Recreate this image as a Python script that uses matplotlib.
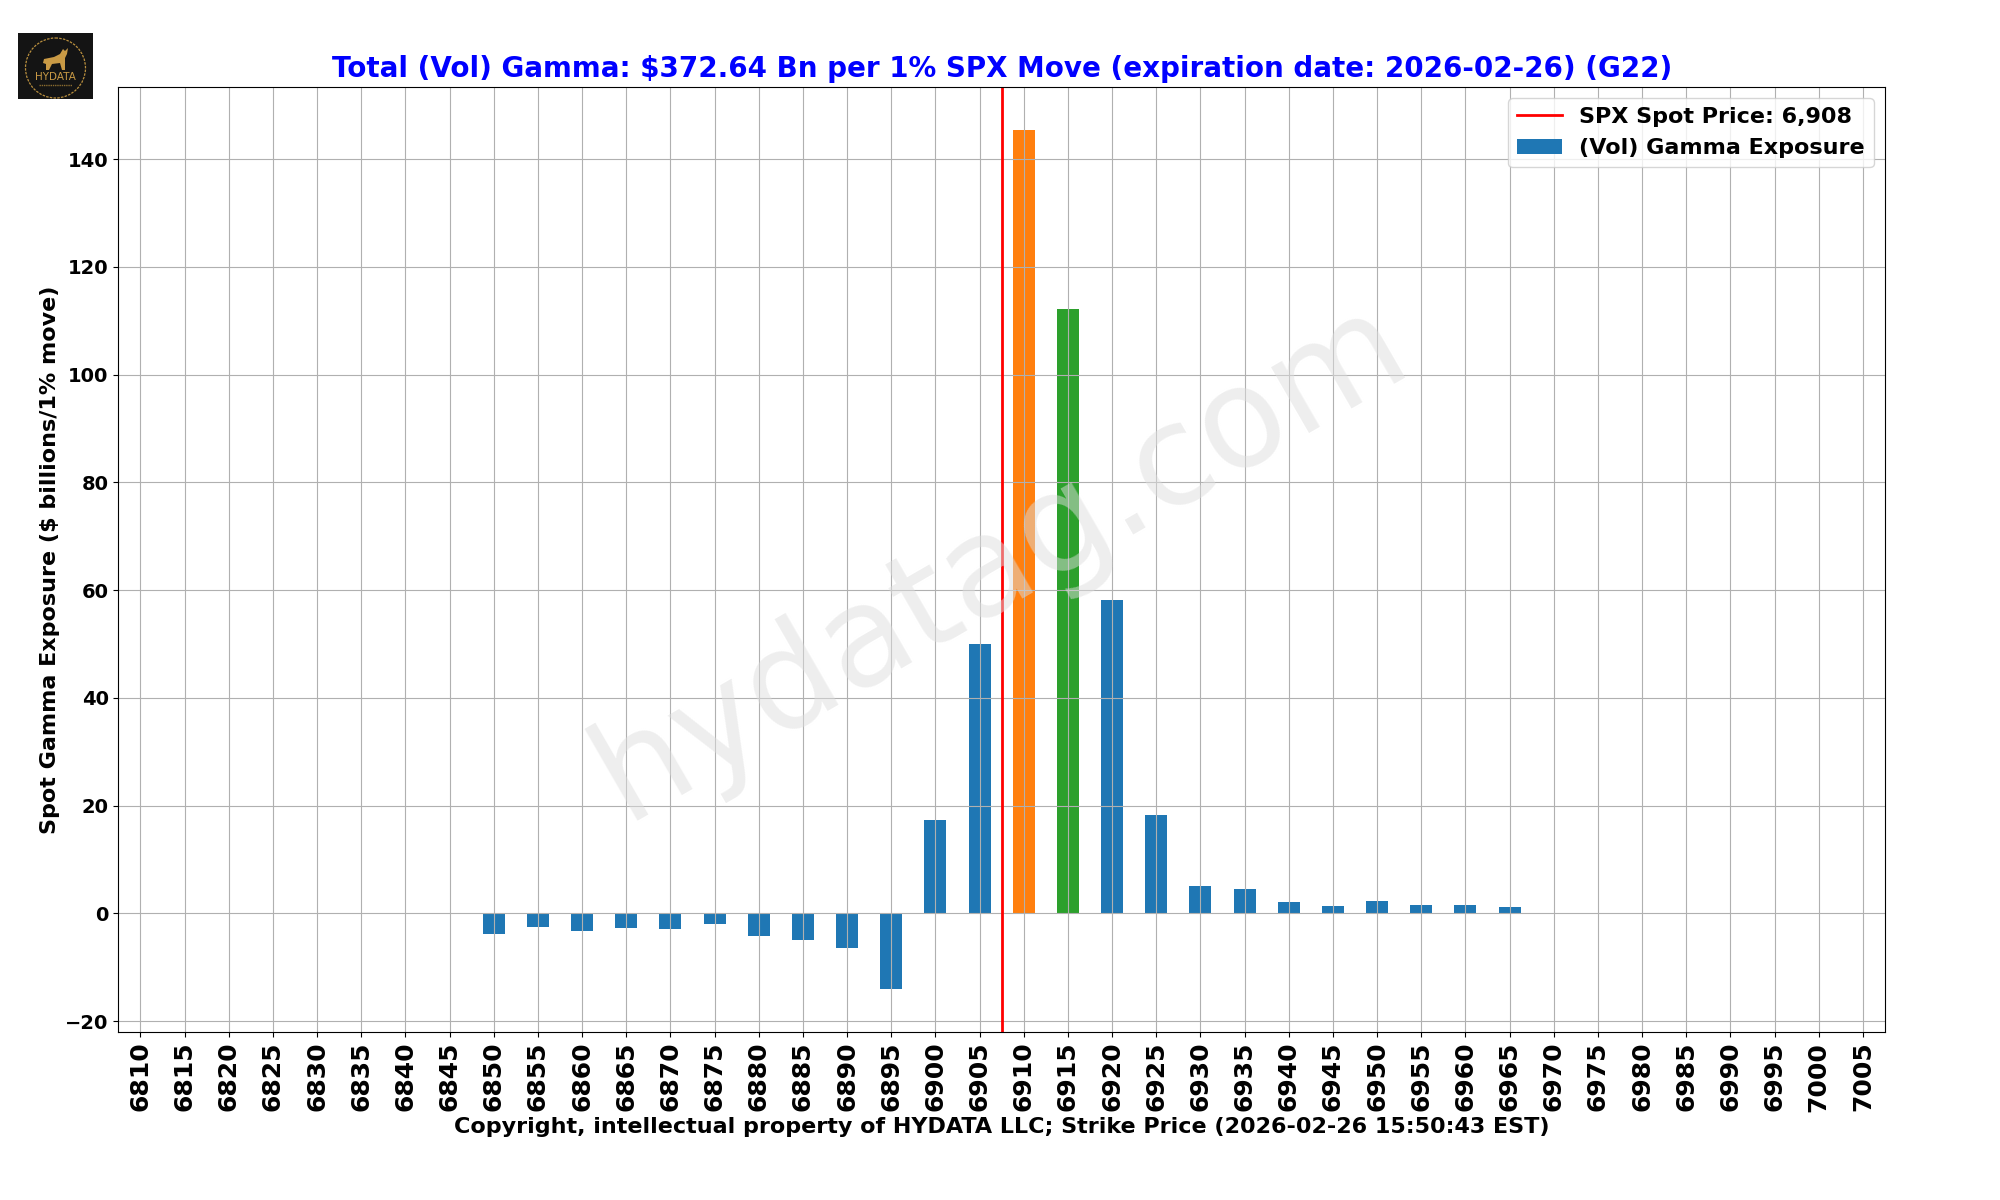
import matplotlib
matplotlib.use("Agg")
import matplotlib.pyplot as plt
from matplotlib.patches import Circle, Polygon
import numpy as np

strikes = [6810, 6815, 6820, 6825, 6830, 6835, 6840, 6845,
           6850, 6855, 6860, 6865, 6870, 6875, 6880, 6885, 6890, 6895,
           6900, 6905, 6910, 6915, 6920, 6925, 6930, 6935, 6940, 6945,
           6950, 6955, 6960, 6965,
           6970, 6975, 6980, 6985, 6990, 6995, 7000, 7005]
gamma = [0, 0, 0, 0, 0, 0, 0, 0,
         -3.84, -2.54, -3.28, -2.72, -2.91, -1.98, -4.21, -4.95, -6.44, -14.06,
         17.28, 49.97, 145.4, 112.2, 58.14, 18.2, 5.05, 4.52, 2.1, 1.36,
         2.29, 1.55, 1.55, 1.18,
         0, 0, 0, 0, 0, 0, 0, 0]
spot_price = 6907.5
strike_step = 5

title = "Total (Vol) Gamma: $372.64 Bn per 1% SPX Move (expiration date: 2026-02-26) (G22)"
x_label = "Copyright, intellectual property of HYDATA LLC; Strike Price (2026-02-26 15:50:43 EST)"
y_label = "Spot Gamma Exposure ($ billions/1% move)"

fig = plt.figure(figsize=(20, 12), dpi=100)
ax = fig.add_axes([118.3 / 2000, 1 - 1032 / 1200, (1885 - 118.3) / 2000, (1032 - 87) / 1200])

# largest bar orange, second largest green
colors = ["C0"] * len(gamma)
order = np.argsort(gamma)
colors[order[-1]] = "C1"
colors[order[-2]] = "C2"

pos = np.arange(len(strikes))
ax.bar(pos, gamma, width=0.5, color=colors, label="(Vol) Gamma Exposure")
ax.axvline((spot_price - strikes[0]) / strike_step, color="red", linewidth=2,
           label=f"SPX Spot Price: {spot_price:,.0f}")

ax.set_xlim(-0.5, len(strikes) - 0.5)
ax.set_xticks(pos)
ax.set_xticklabels(strikes, rotation=90, fontsize=18, fontweight="bold")
ax.tick_params(axis="y", labelsize=14)
for lab in ax.get_yticklabels():
    lab.set_fontweight("bold")
ax.grid(True)

ax.set_title(title, color="blue", fontsize=20, fontweight="bold", pad=7)
ax.set_xlabel(x_label, fontsize=16, fontweight="bold", labelpad=4)
ax.set_ylabel(y_label, fontsize=16, fontweight="bold")
ax.legend(loc="upper right", prop={"size": 16, "weight": "bold"})

# watermark sits on top of everything
fig.text(0.500, 0.534, "hydatag.com", fontsize=100, rotation=30, color="#dedede", alpha=0.5,
         ha="center", va="center", zorder=20)

# logo badge, drawn by hand
logo = fig.add_axes([18 / 2000, 1 - 99 / 1200, 75 / 2000, 66 / 1200])
logo.set_xlim(0, 75)
logo.set_ylim(66, 0)
logo.set_facecolor("#141414")
logo.set_xticks([])
logo.set_yticks([])
for s in logo.spines.values():
    s.set_visible(False)
logo.add_patch(Circle((37.5, 35), 30, fill=False, edgecolor="#b98f3e", linewidth=0.9, linestyle=(0, (2, 1))))
logo.add_patch(Polygon([(26, 26), (36, 24), (42, 21), (45, 16), (47, 18), (50, 15), (49, 21), (47, 25),
                        (47, 37), (44, 37), (42, 30), (34, 31), (31, 37), (28, 37), (28, 31), (25, 30)],
                       closed=True, facecolor="#c99a45", edgecolor="none"))
logo.text(37, 44.5, "HYDATA", color="#c99a45", fontsize=7.5, ha="center", va="center")
logo.plot([21, 54], [51.5, 51.5], color="#8a6c30", linewidth=1, linestyle=(0, (1, 0.6)))

fig.savefig("out.png", dpi=100)
